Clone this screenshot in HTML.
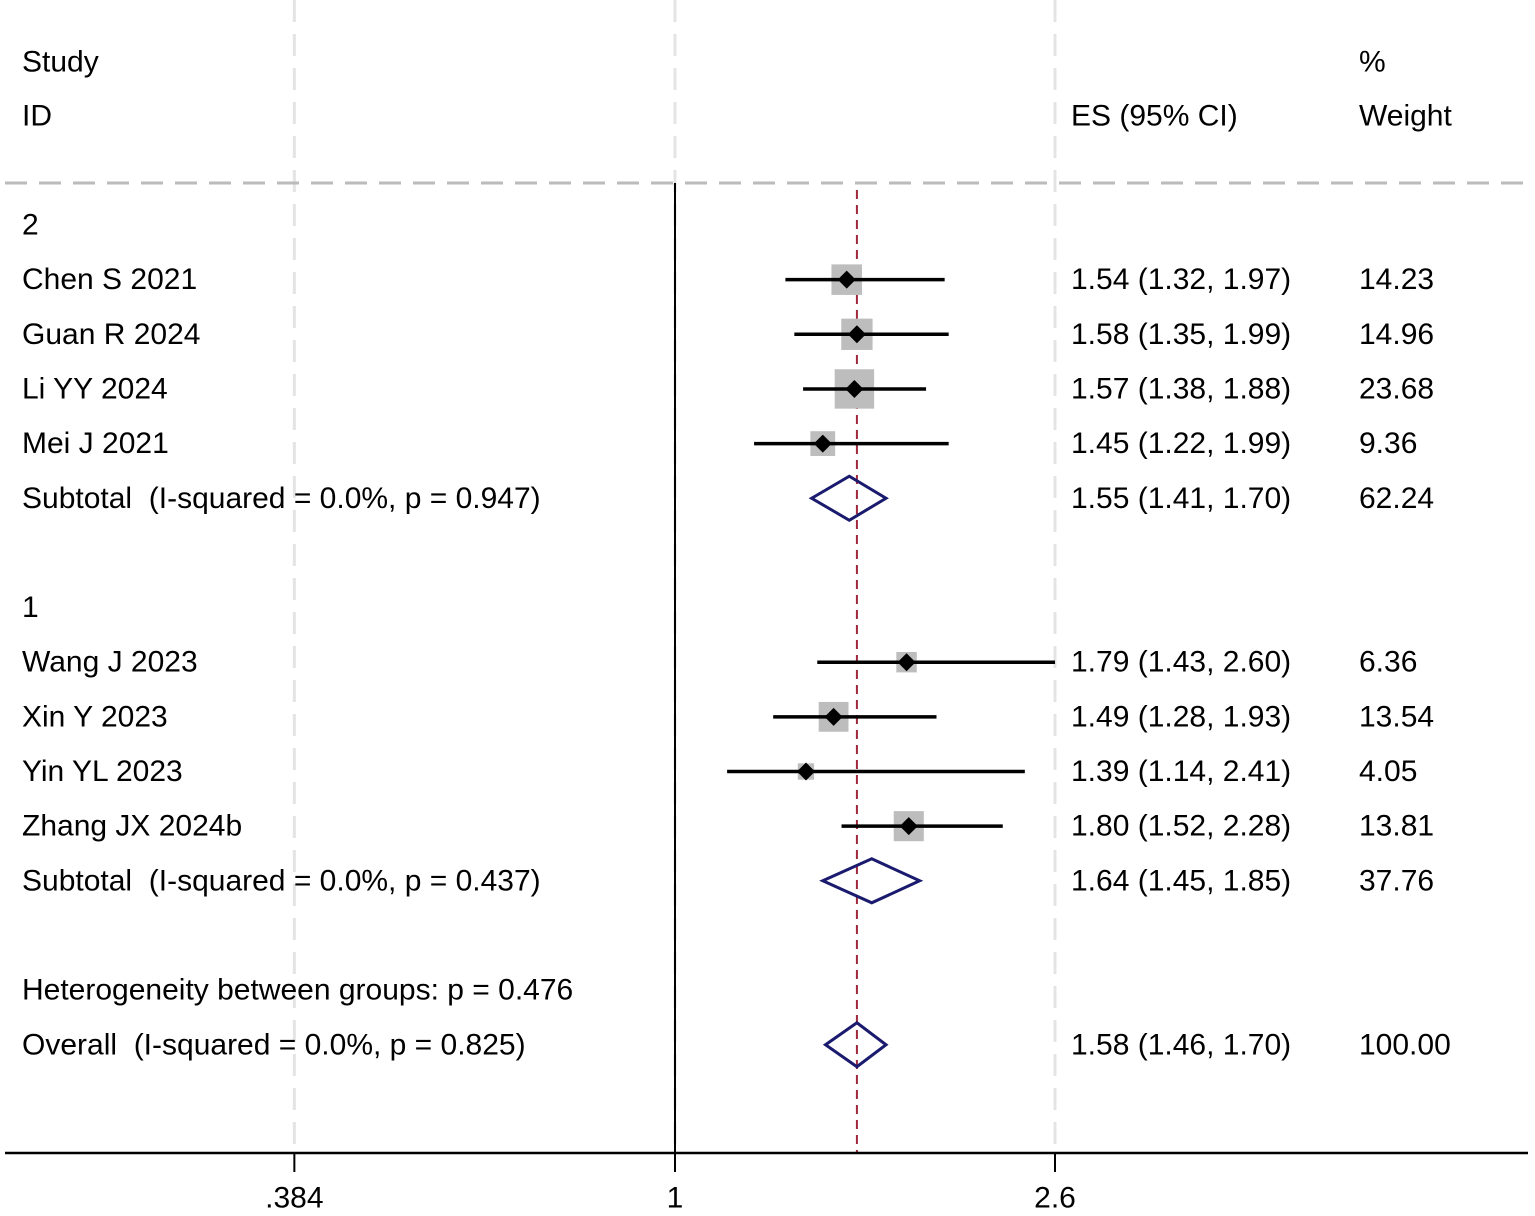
<!DOCTYPE html>
<html><head><meta charset="utf-8"><style>
html,body{margin:0;padding:0;background:#fff;}
svg{display:block;font-family:"Liberation Sans",Arial,sans-serif;}
text{font-size:30px;fill:#000;white-space:pre;}
</style></head><body>
<svg id="chart" width="1535" height="1216" viewBox="0 0 1535 1216" xmlns="http://www.w3.org/2000/svg" xml:space="preserve">
<g id="grid"></g>
<g id="marks"></g>
<g id="labels"></g>
</svg>
<script>
const studies = ["Chen S 2021","Guan R 2024","Li YY 2024","Mei J 2021","Wang J 2023","Xin Y 2023","Yin YL 2023","Zhang JX 2024b"];
const es = [1.54,1.58,1.57,1.45,1.79,1.49,1.39,1.80];
const lo = [1.32,1.35,1.38,1.22,1.43,1.28,1.14,1.52];
const hi = [1.97,1.99,1.88,1.99,2.60,1.93,2.41,2.28];
const weights = ["14.23","14.96","23.68","9.36","6.36","13.54","4.05","13.81"];
const studyRows = [1,2,3,4,8,9,10,11];
const subLabels = ["Subtotal  (I-squared = 0.0%, p = 0.947)","Subtotal  (I-squared = 0.0%, p = 0.437)","Overall  (I-squared = 0.0%, p = 0.825)"];
const subEs = [1.55,1.64,1.58];
const subLo = [1.41,1.45,1.46];
const subHi = [1.70,1.85,1.70];
const subW = ["62.24","37.76","100.00"];
const subRows = [5,12,15];
const groupLabels = ["2","1"];
const groupRows = [0,7];
const ticks = [0.384,1,2.6];
const tickLabels = [".384","1","2.6"];
const overall = 1.58;

const NS="http://www.w3.org/2000/svg";
const X0=675, K=397.7;
function x(v){return X0+Math.log(v)*K;}
function y(r){return 225+r*54.65;}
function fmt(v){return v.toFixed(2);}
function mk(tag,attrs,parent){const e=document.createElementNS(NS,tag);for(const k in attrs)e.setAttribute(k,attrs[k]);document.getElementById(parent).appendChild(e);return e;}
function txt(s,xx,yy,parent,anchor){const t=mk('text',{x:xx,y:yy,'dominant-baseline':'central','text-anchor':anchor||'start'},parent);t.textContent=s;return t;}

ticks.forEach((t,i)=>{const l=mk('line',{x1:x(t),x2:x(t),y1:0,y2:1153,stroke:'#e4e4e4','stroke-width':3,'stroke-dasharray':'22,12'},'grid');

});
let hl=mk('line',{x1:5,x2:1530,y1:183,y2:183,stroke:'#bbbbbb','stroke-width':3,'stroke-dasharray':'22,12'},'grid');


let nl=mk('line',{x1:x(1),x2:x(1),y1:183,y2:1153,stroke:'#000','stroke-width':2},'grid');


let ol=mk('line',{x1:x(overall),x2:x(overall),y1:190,y2:1153,stroke:'#a0283c','stroke-width':2,'stroke-dasharray':'9,6'},'grid');


let ax=mk('line',{x1:5,x2:1528,y1:1153,y2:1153,stroke:'#000','stroke-width':2.5},'grid');


ticks.forEach((t,i)=>{const l=mk('line',{x1:x(t),x2:x(t),y1:1153,y2:1172,stroke:'#000','stroke-width':2},'grid');


const tl=txt(tickLabels[i],x(t),1198,'labels','middle');

});

[["Study",22,62],["ID",22,116],["ES (95% CI)",1071,116],["%",1359,62],["Weight",1359,116]].forEach(h=>{const t=txt(h[0],h[1],h[2],'labels');

});

groupLabels.forEach((g,i)=>{const t=txt(g,22,y(groupRows[i]),'labels');

});

studies.forEach((s,i)=>{const yy=y(studyRows[i]);
const t=txt(s,22,yy,'labels');


const sz=8.1*Math.sqrt(parseFloat(weights[i]));
const b=mk('rect',{x:x(es[i])-sz/2,y:yy-sz/2,width:sz,height:sz,fill:'#bdbdbd'},'marks');


const l=mk('line',{x1:x(lo[i]),x2:x(hi[i]),y1:yy,y2:yy,stroke:'#000','stroke-width':3.5},'marks');


const cx=x(es[i]);
const d=mk('polygon',{points:`${cx-9},${yy} ${cx},${yy-9} ${cx+9},${yy} ${cx},${yy+9}`,fill:'#000'},'marks');


const e=txt(`${fmt(es[i])} (${fmt(lo[i])}, ${fmt(hi[i])})`,1071,yy,'labels');


const w=txt(weights[i],1359,yy,'labels');

});

subLabels.forEach((s,i)=>{const yy=y(subRows[i]);
const t=txt(s,22,yy,'labels');


const d=mk('polygon',{points:`${x(subLo[i])},${yy} ${x(subEs[i])},${yy-22} ${x(subHi[i])},${yy} ${x(subEs[i])},${yy+22}`,fill:'none',stroke:'#1a1a6e','stroke-width':3},'marks');


const e=txt(`${fmt(subEs[i])} (${fmt(subLo[i])}, ${fmt(subHi[i])})`,1071,yy,'labels');


const w=txt(subW[i],1359,yy,'labels');

});

const het=txt("Heterogeneity between groups: p = 0.476",22,y(14),'labels');


</script>
</body></html>
